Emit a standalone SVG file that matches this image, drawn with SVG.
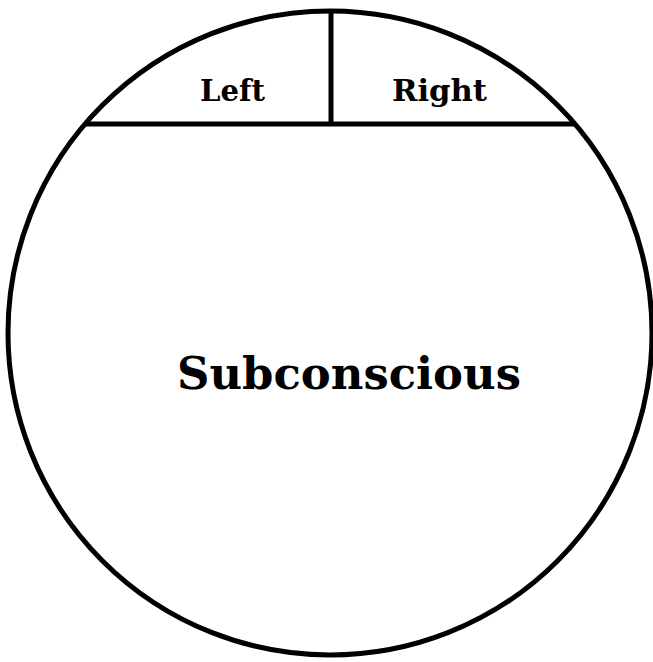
<svg xmlns="http://www.w3.org/2000/svg" width="653" height="662" viewBox="0 0 653 662">
<style>
.ln{fill:none;stroke:#000;stroke-width:5}
.lb{font-family:"DejaVu Serif","Liberation Serif",serif;font-weight:bold;fill:#000;text-anchor:middle}
</style>
<rect width="653" height="662" fill="#fff"/>
<g id="mind">
<circle class="ln" cx="330" cy="333" r="322"/>
</g>
<g id="connectors">
<line class="ln" x1="85" y1="124" x2="575" y2="124"/>
<line class="ln" x1="331" y1="11" x2="331" y2="124"/>
</g>
<g id="left"><text class="lb" x="232.5" y="101" font-size="30" textLength="65" lengthAdjust="spacingAndGlyphs">Left</text></g>
<g id="right"><text class="lb" x="439.5" y="101" font-size="30" textLength="95" lengthAdjust="spacingAndGlyphs">Right</text></g>
<g id="subconscious"><text class="lb" x="349" y="389" font-size="45" textLength="344" lengthAdjust="spacingAndGlyphs">Subconscious</text></g>
</svg>
